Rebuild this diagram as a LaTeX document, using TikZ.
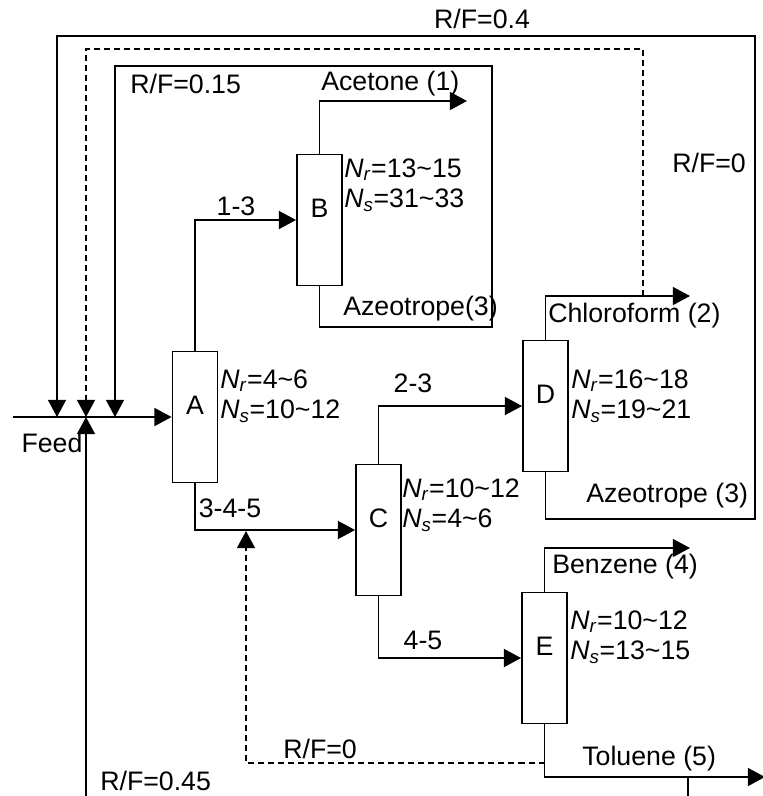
\documentclass[tikz,border=0pt]{standalone}
\usepackage{fontspec}
\setmainfont{Liberation Sans}
\usepackage{tikz}
\usetikzlibrary{arrows.meta, positioning, calc}
\definecolor{mydark}{RGB}{0,0,0}
\tikzset{
  colbox/.style={rectangle, draw=mydark, fill=white,
    minimum width=1.125cm, minimum height=3.275cm,
    inner sep=0pt, line width=1.3pt},
  arrow/.style={-{Triangle[length=0.43cm, width=0.45cm]}, line width=1.3pt, color=mydark},
  line/.style={line width=1.3pt, color=mydark},
  recycle/.style={line width=1.3pt, color=mydark, dash pattern=on 0.15cm off 0.1cm},
  lbl/.style={anchor=west, inner sep=0pt, align=left}
}
\newcommand{\stages}[2]{\textit{N}\textsubscript{\textit{r}}=#1\\\textit{N}\textsubscript{\textit{s}}=#2}

\begin{document}
\begin{tikzpicture}[x=0.025cm, y=-0.025cm,
    every node/.style={font=\fontsize{19}{21.5}\selectfont}]
  \useasboundingbox (0,0) rectangle (763,796);

  % Columns
  \node[colbox] (A) at (195,417) {};
  \node[colbox] (B) at (319.5,220) {};
  \node[colbox] (C) at (378.5,530) {};
  \node[colbox] (D) at (545.5,406) {};
  \node[colbox] (E) at (544.5,658) {};
  \foreach \col in {A,B,C,D,E} {
    \node (\col lab) at ([yshift=0.3cm]\col.center) {\col};
  }

  % Stage numbers
  \node[lbl] (Ans) at (220,396) {\stages{4\textasciitilde6}{10\textasciitilde12}};
  \node[lbl] (Bns) at (344,185) {\stages{13\textasciitilde15}{31\textasciitilde33}};
  \node[lbl] (Cns) at (402,505) {\stages{10\textasciitilde12}{4\textasciitilde6}};
  \node[lbl] (Dns) at (571,396) {\stages{16\textasciitilde18}{19\textasciitilde21}};
  \node[lbl] (Ens) at (570,637) {\stages{10\textasciitilde12}{13\textasciitilde15}};

  % Mixing points on the feed line
  \coordinate (feedin) at (13,417);
  \coordinate (m1) at (57,417);
  \coordinate (m2) at (86,417);
  \coordinate (m3) at (115,417);

  % Feed and column links
  \draw[arrow] (feedin) -- (A.west);
  \node (feed) at (52,443) {Feed};
  \draw[arrow] (A.north) |- (B.west);
  \node (lab13) at (236,206) {1-3};
  \draw[arrow] (A.south) |- (C.west);
  \node (lab345) at (230,508) {3-4-5};
  \draw[arrow] (C.north) |- (D.west);
  \node (lab23) at (413,383) {2-3};
  \draw[arrow] (C.south) |- (E.west);
  \node (lab45) at (423,640) {4-5};

  % Products
  \coordinate (acet) at (467,101);
  \coordinate (chlo) at (690,296);
  \coordinate (benz) at (690,548);
  \coordinate (tolu) at (765,777);
  \draw[arrow] (B.north) |- (acet);
  \draw[arrow] (D.north) |- (chlo);
  \draw[arrow] (E.north) |- (benz);
  \draw[arrow] (E.south) |- (tolu);
  \draw[line] (688,777) -- (688,796);
  \node[lbl] (acetl) at (321,84) {Acetone (1)};
  \node[lbl] (chlol) at (548,316) {Chloroform (2)};
  \node[lbl] (benzl) at (552,567) {Benzene (4)};
  \node[lbl] (tolul) at (582,759) {Toluene (5)};
  \node[lbl] (azeob) at (343,309) {Azeotrope(3)};
  \node[lbl] (azeod) at (586,496) {Azeotrope (3)};

  % Recycle loops
  \draw[arrow] (B.south) |- (492,327) |- (115,66) -- (m3);
  \draw[arrow] (D.south) |- (755,519) |- (57,36) -- (m1);
  \draw[arrow, recycle] (643,296) |- (86,49) -- (m2);
  \draw[arrow, recycle] (544.5,763) -| (246,531);
  \draw[arrow] (86,796) -- (m2);
  \node (rf04) at (482,19) {R/F=0.4};
  \node[lbl] (rf015) at (130,84) {R/F=0.15};
  \node[lbl] (rf0a) at (672,163) {R/F=0};
  \node[lbl] (rf0b) at (283,749) {R/F=0};
  \node[lbl] (rf045) at (100,781) {R/F=0.45};
\end{tikzpicture}
\end{document}
